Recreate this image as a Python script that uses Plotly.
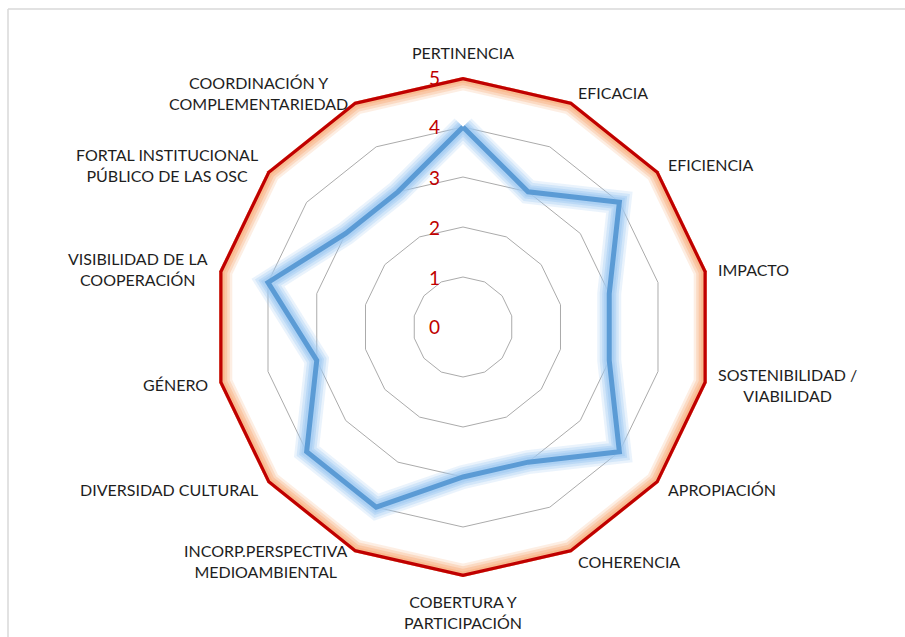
import math
import plotly.graph_objects as go

# Evaluation criteria (clockwise from the top)
criterios = [
    "PERTINENCIA",
    "EFICACIA",
    "EFICIENCIA",
    "IMPACTO",
    "SOSTENIBILIDAD /<br>VIABILIDAD",
    "APROPIACIÓN",
    "COHERENCIA",
    "COBERTURA Y<br>PARTICIPACIÓN",
    "INCORP.PERSPECTIVA<br>MEDIOAMBIENTAL",
    "DIVERSIDAD CULTURAL",
    "GÉNERO",
    "VISIBILIDAD DE LA<br>COOPERACIÓN",
    "FORTAL INSTITUCIONAL<br>PÚBLICO DE LAS OSC",
    "COORDINACIÓN Y<br>COMPLEMENTARIEDAD",
]

# Scores obtained per criterion
valoracion = [4, 3, 4, 3, 3, 4, 3, 3, 4, 4, 3, 4, 3, 3]

# Maximum score reference
maximo = [5] * len(criterios)

# Radial scale
escala = [0, 1, 2, 3, 4, 5]
escala_etiquetas = ["0", "1", "2", "3", "4", "5"]

W, H = 905, 637
CX, CY, R = 463, 327, 250  # centre and outer radius in pixels
RMAX = 5

theta_closed = criterios + [criterios[0]]


def closed(vals):
    return list(vals) + [vals[0]]


fig = go.Figure()


def add_glow(values, core_color, glow_rgb, core_width, glow_layers):
    # soft halo: several wide translucent strokes beneath the main line
    for w, a in glow_layers:
        fig.add_trace(go.Scatterpolar(
            r=closed(values), theta=theta_closed, mode="lines",
            line=dict(color=f"rgba({glow_rgb},{a})", width=w),
            hoverinfo="skip", showlegend=False,
        ))
    fig.add_trace(go.Scatterpolar(
        r=closed(values), theta=theta_closed, mode="lines",
        line=dict(color=core_color, width=core_width),
        showlegend=False,
    ))


add_glow(maximo, "#c00000", "248,176,128", 6.5,
         [(26, 0.22), (21, 0.32), (16, 0.45), (11, 0.6)])
add_glow(valoracion, "#5b9bd5", "160,202,242", 5,
         [(24, 0.22), (19, 0.32), (14, 0.45), (10, 0.6)])


def px_to_paper(x, y):
    return x / W, (H - y) / H


annotations = []

# category labels placed just outside the outer polygon
n = len(criterios)
for i, lab in enumerate(criterios):
    ang = math.radians(90 - i * 360 / n)
    c, s = math.cos(ang), math.sin(ang)
    if c > 0.1:
        xa, ya, pad = "left", "middle", 10
    elif c < -0.1:
        xa, ya, pad = "right", "middle", 10
    else:
        xa, ya, pad = "center", ("bottom" if s > 0 else "top"), 13
    x = CX + (R + pad) * c
    y = CY - (R + pad) * s
    px, py = px_to_paper(x, y)
    annotations.append(dict(
        x=px, y=py, xref="paper", yref="paper", text=lab,
        showarrow=False, xanchor=xa, yanchor=ya, align="center",
        font=dict(size=16, color="#1e1e1e"),
    ))

# radial scale labels beside the top axis
for v, t in zip(escala, escala_etiquetas):
    px, py = px_to_paper(CX - 29, CY - v * R / RMAX)
    annotations.append(dict(
        x=px, y=py, xref="paper", yref="paper", text=t,
        showarrow=False, xanchor="center", yanchor="middle",
        font=dict(size=19, color="#c00000"),
    ))

fig.update_layout(
    width=W, height=H,
    paper_bgcolor="white",
    margin=dict(l=0, r=0, t=0, b=0),
    font=dict(family="Lato, 'Open Sans', sans-serif", color="#1e1e1e"),
    showlegend=False,
    polar=dict(
        domain=dict(x=[(CX - R) / W, (CX + R) / W],
                    y=[(H - CY - R) / H, (H - CY + R) / H]),
        bgcolor="white",
        gridshape="linear",
        angularaxis=dict(
            rotation=90, direction="clockwise",
            categoryorder="array", categoryarray=criterios,
            showgrid=False, showline=False, ticks="",
            showticklabels=False,
        ),
        radialaxis=dict(
            range=[0, RMAX], tickvals=escala, angle=90,
            showline=False, showgrid=True, showticklabels=False,
            gridcolor="#ababab", gridwidth=1, ticks="",
        ),
    ),
    annotations=annotations,
    shapes=[
        dict(type="line", xref="paper", yref="paper",
             x0=8 / W, x1=1.05, y0=(H - 9) / H, y1=(H - 9) / H,
             line=dict(color="#d9d9d9", width=1.5)),
        dict(type="line", xref="paper", yref="paper",
             x0=8 / W, x1=8 / W, y0=-0.05, y1=(H - 9) / H,
             line=dict(color="#d9d9d9", width=1.5)),
    ],
)

fig.write_html("out.html")
